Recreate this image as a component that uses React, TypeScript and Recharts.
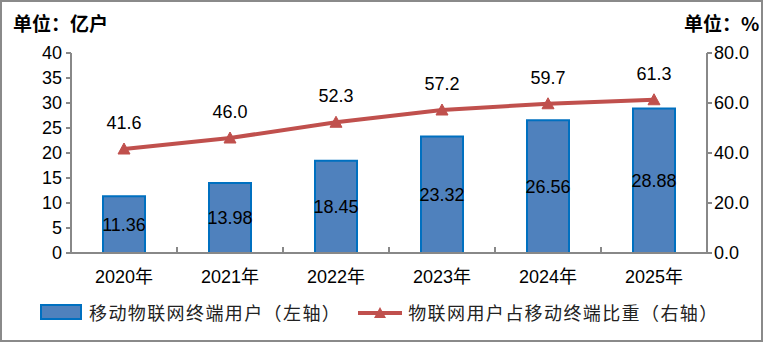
import React from 'react';
import {
  ComposedChart, Bar, Line, XAxis, YAxis, LabelList,
} from 'recharts';

const categories = ['2020年', '2021年', '2022年', '2023年', '2024年', '2025年'];
const users = [11.36, 13.98, 18.45, 23.32, 26.56, 28.88];
const share = [41.6, 46.0, 52.3, 57.2, 59.7, 61.3];
const leftTicks = [0, 5, 10, 15, 20, 25, 30, 35, 40];
const rightTicks = [0, 20, 40, 60, 80];

const data = categories.map((c, i) => ({ name: c, users: users[i], share: share[i] }));

const FONT = '"Liberation Sans", "Noto Sans CJK SC", sans-serif';
const CJK = '"Noto Sans CJK SC", sans-serif';
const GRAY = '#888888';
const BAR_FILL = '#4F81BD';
const BAR_STROKE = '#0070C0';
const LINE = '#C0504D';
const X_TICK_MARGIN = 14;

const Triangle = (props: any) => {
  const { cx, cy } = props;
  if (cx == null || cy == null) return null;
  return (
    <path d={`M${cx},${cy - 6} L${cx + 6},${cy + 5} L${cx - 6},${cy + 5} Z`} fill={LINE} stroke={LINE} strokeWidth={1} />
  );
};

const XTick = (props: any) => {
  const { x, y, payload, index, visibleTicksCount, width } = props;
  const count = visibleTicksCount || categories.length;
  let half = payload && typeof payload.offset === 'number' && payload.offset > 0 ? payload.offset : 0;
  if (!half && typeof width === 'number') half = width / count / 2;
  const axisY = y - X_TICK_MARGIN;
  const last = index === count - 1;
  return (
    <g>
      {index > 0 && half > 0 && (
        <line x1={x - half} x2={x - half} y1={axisY} y2={axisY - 6} stroke={GRAY} strokeWidth={2} />
      )}
      {last && half > 0 && (
        <line x1={x + half} x2={x + half} y1={axisY} y2={axisY - 6} stroke={GRAY} strokeWidth={2} />
      )}
      <text x={x} y={y} dy={16} textAnchor="middle" fill="#000" fontSize={18} fontFamily={FONT}>
        {payload.value}
      </text>
    </g>
  );
};

export default function App() {
  return (
    <div style={{ position: 'absolute', left: 0, top: 0, width: 763, height: 342, boxSizing: 'border-box', border: '2px solid #8a8a8a', background: '#fff', overflow: 'hidden' }}>
      <div style={{ position: 'absolute', left: -2, top: -2 }}>
        <ComposedChart width={763} height={342} data={data} margin={{ top: 53, right: 8, bottom: 59, left: 8 }} barCategoryGap="30%">
          <XAxis
            dataKey="name"
            axisLine={{ stroke: GRAY, strokeWidth: 2 }}
            tickLine={false}
            tickSize={0}
            height={30}
            tick={<XTick />}
            tickMargin={X_TICK_MARGIN}
            interval={0}
          />
          <YAxis
            yAxisId="left"
            domain={[0, 40]}
            ticks={leftTicks}
            width={63}
            axisLine={{ stroke: GRAY, strokeWidth: 2 }}
            tickLine={{ stroke: GRAY, strokeWidth: 2 }}
            tickSize={5}
            tickMargin={4}
            tick={{ fill: '#000', fontSize: 18, fontFamily: FONT }}
            interval={0}
          />
          <YAxis
            yAxisId="right"
            orientation="right"
            domain={[0, 80]}
            ticks={rightTicks}
            width={48}
            axisLine={{ stroke: GRAY, strokeWidth: 2 }}
            tickLine={{ stroke: GRAY, strokeWidth: 2 }}
            tickSize={5}
            tickMargin={2}
            tickFormatter={(v: number) => v.toFixed(1)}
            tick={{ fill: '#000', fontSize: 18, fontFamily: FONT }}
            interval={0}
          />
          <Bar yAxisId="left" dataKey="users" fill={BAR_FILL} stroke={BAR_STROKE} strokeWidth={2} barSize={42} isAnimationActive={false}>
            <LabelList dataKey="users" position="center" fill="#000" fontSize={18} fontFamily={FONT} formatter={(v: any) => Number(v).toFixed(2)} />
          </Bar>
          <Line yAxisId="right" dataKey="share" stroke={LINE} strokeWidth={4} dot={<Triangle />} activeDot={false} isAnimationActive={false}>
            <LabelList dataKey="share" position="top" offset={20} fill="#000" fontSize={18} fontFamily={FONT} formatter={(v: any) => Number(v).toFixed(1)} />
          </Line>
        </ComposedChart>
      </div>
      <div style={{ position: 'absolute', left: 11, top: 7, fontFamily: CJK, fontSize: 19, fontWeight: 700, color: '#000', whiteSpace: 'nowrap' }}>单位：亿户</div>
      <div style={{ position: 'absolute', left: 682, top: 7, fontFamily: CJK, fontSize: 19, fontWeight: 700, color: '#000', whiteSpace: 'nowrap' }}>单位：%</div>
      <div style={{ position: 'absolute', left: 38, top: 297, display: 'flex', alignItems: 'center', fontFamily: CJK, fontSize: 18, color: '#222', whiteSpace: 'nowrap' }}>
        <span style={{ display: 'inline-block', width: 38, height: 12, background: BAR_FILL, border: `2px solid ${BAR_STROKE}`, marginRight: 7 }} />
        <span style={{ letterSpacing: 1.4 }}>移动物联网终端用户（左轴）</span>
        <svg width={44} height={14} style={{ marginLeft: 17, marginRight: 6 }}>
          <line x1={0} y1={8} x2={44} y2={8} stroke={LINE} strokeWidth={4} />
          <path d="M22,2 L28,13 L16,13 Z" fill={LINE} />
        </svg>
        <span style={{ letterSpacing: 1.4 }}>物联网用户占移动终端比重（右轴）</span>
      </div>
    </div>
  );
}
